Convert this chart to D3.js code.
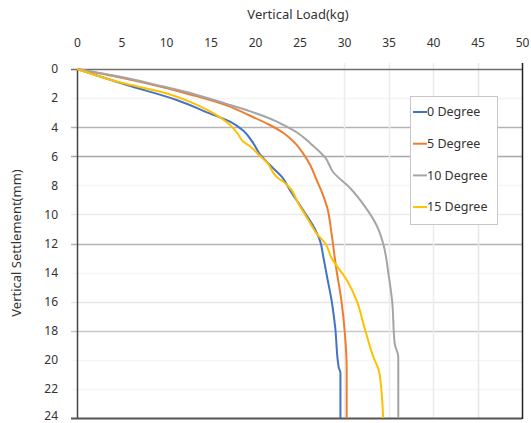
<!DOCTYPE html>
<meta charset="utf-8">
<script src="https://d3js.org/d3.v7.min.js"></script>
<style>
  body { margin: 0; background: #fff; }
  text { font-family: "Noto Sans", "DejaVu Sans", sans-serif; fill: #333; }
</style>
<div id="chart"></div>
<script>
// data: [load (kg), settlement (mm)]
var deg0 = [[0,0],[5.6,1.1],[11.2,2.13],[14.9,3.05],[17.2,3.62],[18.7,4.25],[19.8,5.1],[20.6,5.9],[22.0,6.8],[23.0,7.4],[23.9,8.3],[25.4,9.7],[26.7,10.96],[27.3,11.8],[27.7,13.0],[28.1,14.3],[28.6,15.9],[29.0,17.7],[29.4,20.5],[29.6,20.9],[29.6,24]];
var deg5 = [[0,0],[5,0.6],[9.3,1.2],[13,1.8],[16.8,2.5],[19.4,3.2],[21.5,3.8],[23.2,4.4],[24.5,5.1],[25.4,5.8],[26.2,6.6],[26.9,7.6],[27.6,8.6],[28.1,9.5],[28.6,11.3],[29.1,13.6],[29.7,15.9],[30.1,18.2],[30.3,20.5],[30.3,24]];
var deg10 = [[0,0],[5,0.55],[9.3,1.15],[13,1.7],[16.8,2.4],[19.4,2.9],[22.4,3.6],[23.2,3.85],[24.8,4.4],[26.2,5.1],[27.9,6.1],[28.8,7.1],[30.7,8.2],[32.4,9.5],[33.7,10.8],[34.4,12.0],[35.0,14.1],[35.4,15.9],[35.7,18.9],[36.1,19.8],[36.1,24]];
var deg15 = [[0,0],[5,0.95],[9.3,1.55],[13.1,2.36],[14.9,2.9],[17.2,3.85],[18.0,4.4],[18.7,5.0],[19.4,5.3],[20.6,6.0],[21.3,6.4],[22.8,7.6],[23.2,7.75],[25.1,9.5],[26.2,10.6],[26.9,11.3],[27.9,12.0],[28.6,13.0],[30.3,14.5],[31.4,15.9],[32.4,18.0],[33.3,19.8],[33.9,20.7],[34.2,22.1],[34.4,24]];

var seriesNames = ["0 Degree", "5 Degree", "10 Degree", "15 Degree"];
var seriesData = [deg0, deg5, deg10, deg15];
var xTicks = [0,5,10,15,20,25,30,35,40,45,50];
var yTicks = [0,2,4,6,8,10,12,14,16,18,20,22,24];

var colors = ["#4472C4", "#ED7D31", "#A5A5A5", "#FFC000"];
// gridline greys, as they appear in the picture
var hGridColor = {2:"#f3f3f3",4:"#b4b4b4",6:"#a8a8a8",8:"#f5f5f5",10:"#ebebeb",12:"#b4b4b4",14:"#f5f5f5",16:"#e6e6e6",18:"#c8c8c8",20:"#f5f5f5",22:"#f5f5f5"};
var vGridColor = {30:"#ececec",35:"#ececec",40:"#ececec",45:"#e6e6e6"};

var W = 531, H = 423;
var pLeft = 77, pRight = 522, pTop = 69, pBottom = 418;

var svg = d3.select("#chart").append("svg")
  .attr("width", W).attr("height", H);

var x = d3.scaleLinear().domain([0, 50]).range([pLeft, pRight]);
var y = d3.scaleLinear().domain([0, 24]).range([pTop, pBottom]);

// gridlines
svg.append("g").selectAll("line")
  .data(yTicks.filter(function(d) { return hGridColor[d]; }))
  .enter().append("line")
    .attr("x1", pLeft - 6).attr("x2", pRight)
    .attr("y1", function(d) { return Math.round(y(d)) + 0.5; })
    .attr("y2", function(d) { return Math.round(y(d)) + 0.5; })
    .attr("stroke", function(d) { return hGridColor[d]; })
    .attr("stroke-width", 1.5);

svg.append("g").selectAll("line")
  .data(xTicks.filter(function(d) { return vGridColor[d]; }))
  .enter().append("line")
    .attr("x1", function(d) { return Math.round(x(d)) + 0.5; })
    .attr("x2", function(d) { return Math.round(x(d)) + 0.5; })
    .attr("y1", pTop - 6).attr("y2", pBottom)
    .attr("stroke", function(d) { return vGridColor[d]; })
    .attr("stroke-width", 1.5);

// top axis labels
var xAxis = d3.axisTop(x).tickValues(xTicks).tickSize(0).tickPadding(0);
var gx = svg.append("g").attr("transform", "translate(0,47)").call(xAxis);
gx.select(".domain").remove();
gx.selectAll("text").style("font-size", "12px").attr("fill", "#333");

// left axis labels
var yAxis = d3.axisLeft(y).tickValues(yTicks).tickSize(0).tickPadding(0);
var gy = svg.append("g").attr("transform", "translate(58,0)").call(yAxis);
gy.select(".domain").remove();
gy.selectAll("text").style("font-size", "12px").attr("fill", "#333")
  .attr("dy", function(d) { return d === 24 ? "0.1em" : "0.32em"; });

// frame
svg.append("line").attr("x1", pLeft - 6).attr("x2", pRight).attr("y1", pTop + 0.5).attr("y2", pTop + 0.5)
  .attr("stroke", "#6e6e6e").attr("stroke-width", 1.5);
svg.append("line").attr("x1", pLeft - 6).attr("x2", pRight).attr("y1", pBottom + 0.5).attr("y2", pBottom + 0.5)
  .attr("stroke", "#555").attr("stroke-width", 2);
svg.append("line").attr("x1", pLeft + 0.5).attr("x2", pLeft + 0.5).attr("y1", pTop).attr("y2", pBottom)
  .attr("stroke", "#444").attr("stroke-width", 1.5);
svg.append("line").attr("x1", pRight + 0.5).attr("x2", pRight + 0.5).attr("y1", pTop - 6).attr("y2", pBottom + 1)
  .attr("stroke", "#222").attr("stroke-width", 1.5);

// series lines
var line = d3.line()
  .x(function(d) { return x(d[0]); })
  .y(function(d) { return y(d[1]); })
  .curve(d3.curveMonotoneY);

svg.append("g").selectAll("path")
  .data(seriesData)
  .enter().append("path")
    .attr("fill", "none")
    .attr("stroke", function(d, i) { return colors[i]; })
    .attr("stroke-width", 2)
    .attr("d", line);

// legend
var lg = svg.append("g");
lg.append("rect")
  .attr("x", 410.5).attr("y", 96.5).attr("width", 87).attr("height", 128)
  .attr("fill", "#fff").attr("stroke", "#c8c8c8");
var items = lg.selectAll("g.item").data(seriesNames).enter().append("g")
  .attr("transform", function(d, i) { return "translate(0," + (112 + i * 31.7) + ")"; });
items.append("line")
  .attr("x1", 413).attr("x2", 427).attr("y1", 0).attr("y2", 0)
  .attr("stroke", function(d, i) { return colors[i]; })
  .attr("stroke-width", 2);
items.append("text")
  .attr("x", 427).attr("y", 0).attr("dy", "0.35em")
  .style("font-size", "12.5px")
  .text(function(d) { return d; });

// axis titles
svg.append("text")
  .attr("x", 298).attr("y", 19)
  .attr("text-anchor", "middle")
  .style("font-size", "13px")
  .text("Vertical Load(kg)");

svg.append("text")
  .attr("transform", "translate(21,243) rotate(-90)")
  .attr("text-anchor", "middle")
  .style("font-size", "13px")
  .text("Vertical Settlement(mm)");
</script>
